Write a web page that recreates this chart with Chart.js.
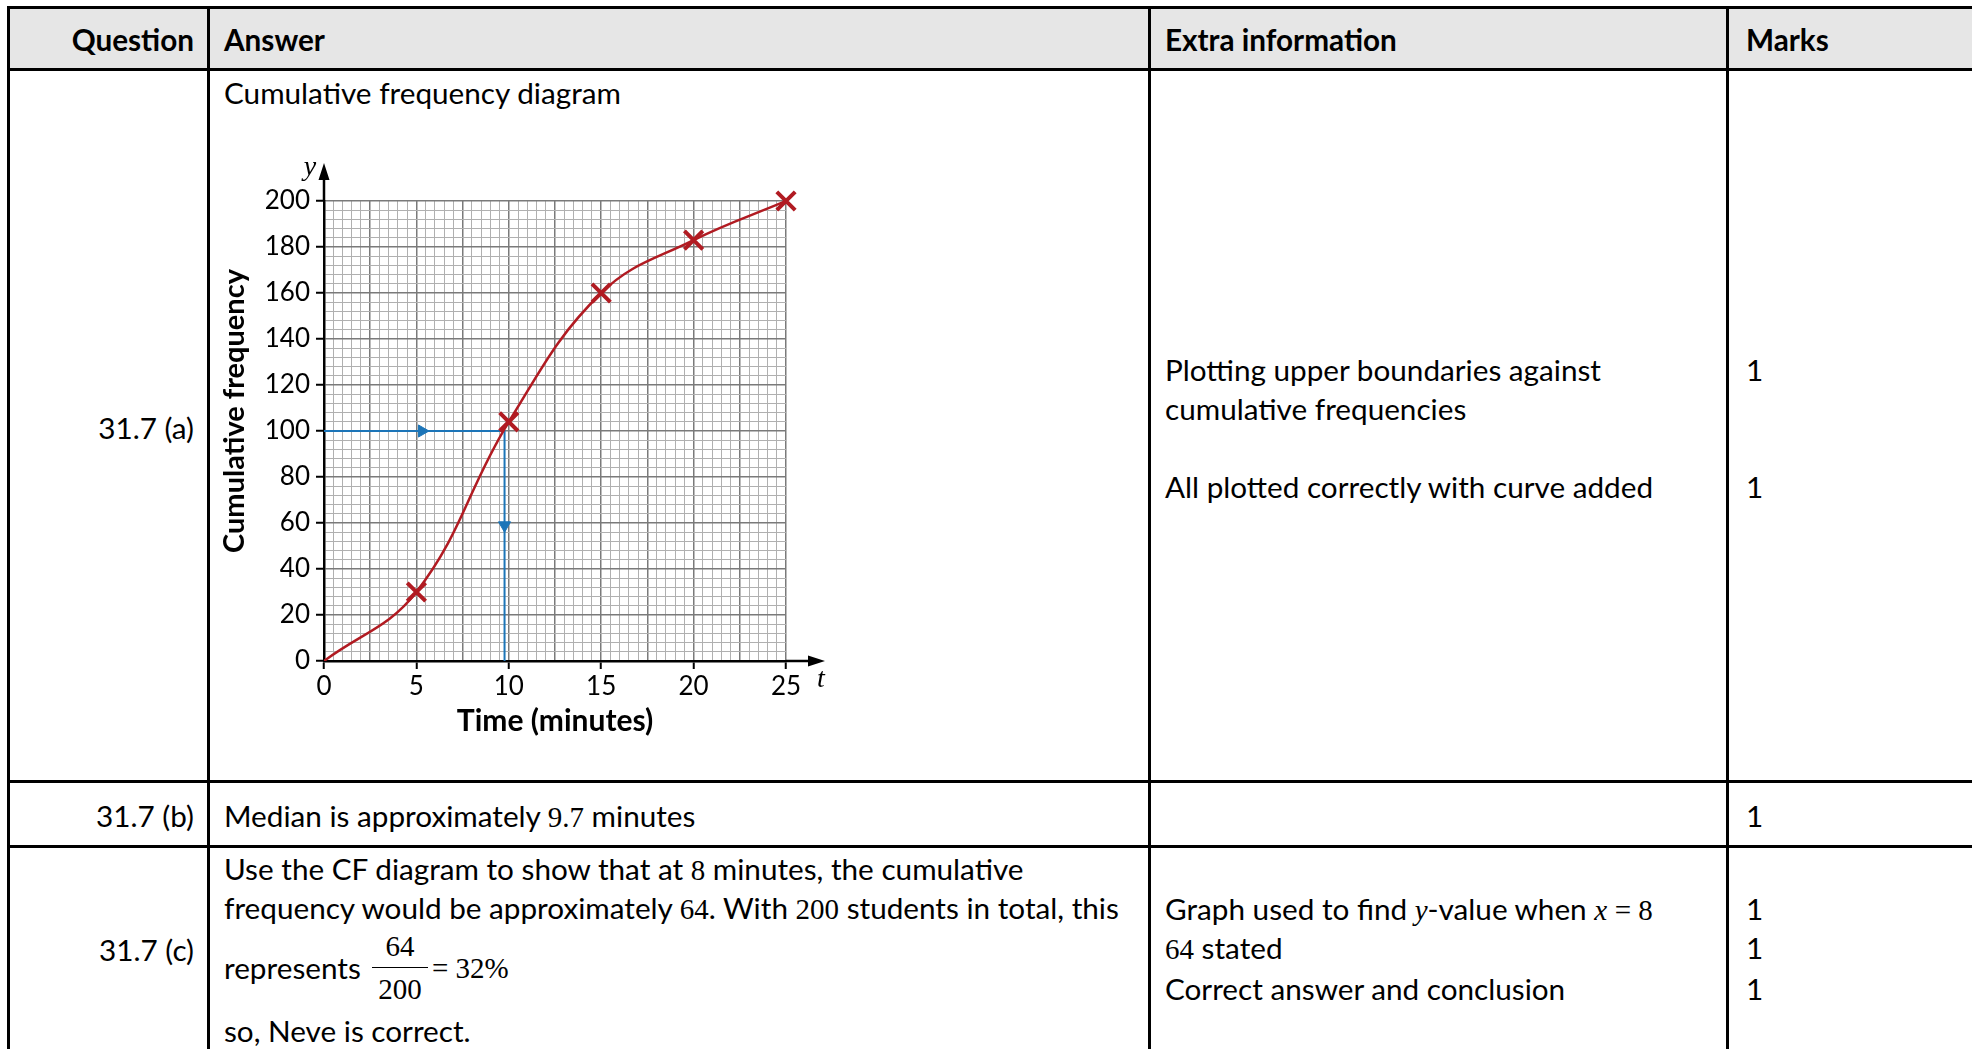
<!DOCTYPE html>
<html>
<head>
<meta charset="utf-8">
<script src="https://cdn.jsdelivr.net/npm/chart.js"></script>
<style>
  html, body { margin: 0; padding: 0; background: #fff; overflow: hidden; }
  body { width: 1972px; height: 1049px; position: relative; font-family: Lato, sans-serif; color: #000; font-size: 29.7px; }
  #head { position: absolute; left: 8px; top: 7px; right: 0; height: 63px; background: #e6e6e6; }
  .hl { position: absolute; left: 7px; right: 0; height: 3px; background: #000; }
  .vl { position: absolute; top: 6px; bottom: 0; width: 3px; background: #000; }
  .t { position: absolute; line-height: 32px; white-space: nowrap; }
  .q { left: 0; width: 194px; text-align: right; }
  .b { font-weight: bold; }
  .m { font-family: 'Liberation Serif', serif; font-size: 29px; }
  #frac { position: absolute; left: 372px; top: 931px; width: 56px; text-align: center; font-family: 'Liberation Serif', serif; font-size: 29px; }
  #frac div { line-height: 30px; }
  #frac .num { padding-bottom: 6px; }
  #frac .den { padding-top: 6px; border-top: 1.5px solid #000; }
  #chartBox { position: absolute; left: 214px; top: 150px; width: 626px; height: 593px; }
</style>
</head>
<body>
<div id="head"></div>
<div class="hl" style="top:6px"></div>
<div class="hl" style="top:68px"></div>
<div class="hl" style="top:780px"></div>
<div class="hl" style="top:845px"></div>
<div class="vl" style="left:7px"></div>
<div class="vl" style="left:207px"></div>
<div class="vl" style="left:1148px"></div>
<div class="vl" style="left:1726px"></div>

<div class="t q b" style="top:24px">Question</div>
<div class="t b" style="top:24px;left:224px">Answer</div>
<div class="t b" style="top:24px;left:1165px">Extra information</div>
<div class="t b" style="top:24px;left:1746px">Marks</div>

<div class="t" style="top:77px;left:224px">Cumulative frequency diagram</div>
<div class="t q" style="top:412px">31.7 (a)</div>
<div class="t" style="top:354px;left:1165px">Plotting upper boundaries against</div>
<div class="t" style="top:393px;left:1165px">cumulative frequencies</div>
<div class="t" style="top:471px;left:1165px">All plotted correctly with curve added</div>
<div class="t" style="top:354px;left:1746px">1</div>
<div class="t" style="top:471px;left:1746px">1</div>

<div class="t q" style="top:800px">31.7 (b)</div>
<div class="t" style="top:800px;left:224px">Median is approximately <span class="m">9.7</span> minutes</div>
<div class="t" style="top:800px;left:1746px">1</div>

<div class="t q" style="top:934px">31.7 (c)</div>
<div class="t" style="top:853px;left:224px">Use the CF diagram to show that at <span class="m">8</span> minutes, the cumulative</div>
<div class="t" style="top:892px;left:224px">frequency would be approximately <span class="m">64</span>. With <span class="m">200</span> students in total, this</div>
<div class="t" style="top:952px;left:224px">represents</div>
<div id="frac"><div class="num">64</div><div class="den">200</div></div>
<div class="t m" style="top:952px;left:432px">= 32%</div>
<div class="t" style="top:1015px;left:224px">so, Neve is correct.</div>
<div class="t" style="top:893px;left:1165px">Graph used to find <i class="m">y</i>-value when <i class="m">x</i> <span class="m">= 8</span></div>
<div class="t" style="top:932px;left:1165px"><span class="m">64</span> stated</div>
<div class="t" style="top:973px;left:1165px">Correct answer and conclusion</div>
<div class="t" style="top:893px;left:1746px">1</div>
<div class="t" style="top:932px;left:1746px">1</div>
<div class="t" style="top:973px;left:1746px">1</div>

<div id="chartBox"><canvas id="cf"></canvas></div>

<script>
// plotted points (upper class boundary, cumulative frequency)
const times = [5, 10, 15, 20, 25]
const cumulativeFrequency = [30, 104, 160, 183, 200]
// the curve starts at the origin
const curveTimes = [0, 5, 10, 15, 20, 25]
const curveFrequency = [0, 30, 104, 160, 183, 200]
// median read-off lines
const medianX = [0, 9.77, 9.77]
const medianY = [100, 100, 0]
const arrowX = [5.3, 9.77]
const arrowY = [100, 59]
const arrowTurn = [90, 180]
// labelled ticks
const xLabels = [0, 5, 10, 15, 20, 25]
const yLabels = [0, 20, 40, 60, 80, 100, 120, 140, 160, 180, 200]

const red = '#b11b22'
const blue = '#1c75b8'

Chart.defaults.font.family = 'Lato'
Chart.defaults.color = '#000'

function pts(xs, ys) {
    return xs.map((x, i) => ({ x: x, y: ys[i] }))
}

// axis arrows, the y / t letters and the y title (a bit above centre, like the original)
const axisArrows = {
    id: 'axisArrows',
    afterDraw(chart) {
        const c = chart.ctx
        const a = chart.chartArea
        const x0 = chart.scales.x.getPixelForValue(0)
        const y0 = chart.scales.y.getPixelForValue(0)
        c.save()
        c.strokeStyle = '#000'
        c.fillStyle = '#000'
        c.lineWidth = 2.5
        c.beginPath()
        c.moveTo(x0, a.top)
        c.lineTo(x0, a.top - 24)
        c.moveTo(a.right, y0)
        c.lineTo(a.right + 24, y0)
        c.stroke()
        c.beginPath()
        c.moveTo(x0, a.top - 38)
        c.lineTo(x0 - 5.5, a.top - 21)
        c.lineTo(x0 + 5.5, a.top - 21)
        c.closePath()
        c.moveTo(a.right + 39, y0)
        c.lineTo(a.right + 22, y0 - 5.5)
        c.lineTo(a.right + 22, y0 + 5.5)
        c.closePath()
        c.fill()
        c.font = 'italic 28px "Liberation Serif"'
        c.textAlign = 'center'
        c.textBaseline = 'middle'
        c.fillText('y', x0 - 14, a.top - 33)
        c.fillText('t', a.right + 35, y0 + 19)
        c.translate(a.left - 89, (a.top + a.bottom) / 2 - 20)
        c.rotate(-Math.PI / 2)
        c.font = 'bold 29px Lato'
        c.fillText('Cumulative frequency', 0, 0)
        c.restore()
    }
}

new Chart(document.getElementById('cf'), {
    type: 'scatter',
    data: {
        datasets: [
            {
                label: 'Plotted',
                data: pts(times, cumulativeFrequency),
                pointStyle: 'crossRot',
                pointRadius: 13,
                pointBorderWidth: 4,
                pointBorderColor: red,
                borderColor: red,
                clip: false
            },
            {
                label: 'Curve',
                data: pts(curveTimes, curveFrequency),
                showLine: true,
                pointRadius: 0,
                borderColor: red,
                borderWidth: 2.5,
                tension: 0.4
            },
            {
                label: 'Median',
                data: pts(medianX, medianY),
                showLine: true,
                pointRadius: 0,
                borderColor: blue,
                borderWidth: 2
            },
            {
                label: 'Arrows',
                data: pts(arrowX, arrowY),
                pointStyle: 'triangle',
                pointRotation: arrowTurn,
                pointRadius: 7,
                pointBackgroundColor: blue,
                pointBorderColor: blue,
                pointBorderWidth: 1
            }
        ]
    },
    options: {
        responsive: true,
        maintainAspectRatio: false,
        animation: false,
        layout: { padding: { top: 51, right: 54, left: 0, bottom: 0 } },
        plugins: { legend: { display: false }, tooltip: { enabled: false } },
        scales: {
            x: {
                type: 'linear',
                min: 0,
                max: 25,
                afterFit: s => { s.height = 82 },
                border: { color: '#000', width: 2.5 },
                grid: {
                    color: c => c.tick.value === 0 ? 'rgba(0,0,0,0)' : (c.tick.value % 2.5 === 0 ? '#7a7a7a' : '#b0b0b0'),
                    lineWidth: c => c.tick.value % 2.5 === 0 ? 1.5 : 1,
                    tickColor: c => xLabels.includes(c.tick.value) ? '#000' : 'rgba(0,0,0,0)',
                    tickWidth: 2,
                    tickLength: 8
                },
                ticks: {
                    stepSize: 0.5,
                    autoSkip: false,
                    maxRotation: 0,
                    minRotation: 0,
                    padding: 2,
                    font: { size: 26 },
                    callback: v => xLabels.includes(v) ? v : ''
                },
                title: { display: true, text: 'Time (minutes)', color: '#000', font: { size: 30, weight: 'bold' } }
            },
            y: {
                min: 0,
                max: 200,
                afterFit: s => { s.width = 110 },
                border: { color: '#000', width: 2.5 },
                grid: {
                    color: c => c.tick.value === 0 ? 'rgba(0,0,0,0)' : (c.tick.value % 20 === 0 ? '#7a7a7a' : '#b0b0b0'),
                    lineWidth: c => c.tick.value % 20 === 0 ? 1.5 : 1,
                    tickColor: c => yLabels.includes(c.tick.value) ? '#000' : 'rgba(0,0,0,0)',
                    tickWidth: 2,
                    tickLength: 8
                },
                ticks: {
                    stepSize: 4,
                    autoSkip: false,
                    padding: 6,
                    font: { size: 26 },
                    callback: v => yLabels.includes(v) ? v : ''
                }
            }
        }
    },
    plugins: [axisArrows]
})
</script>
</body>
</html>
